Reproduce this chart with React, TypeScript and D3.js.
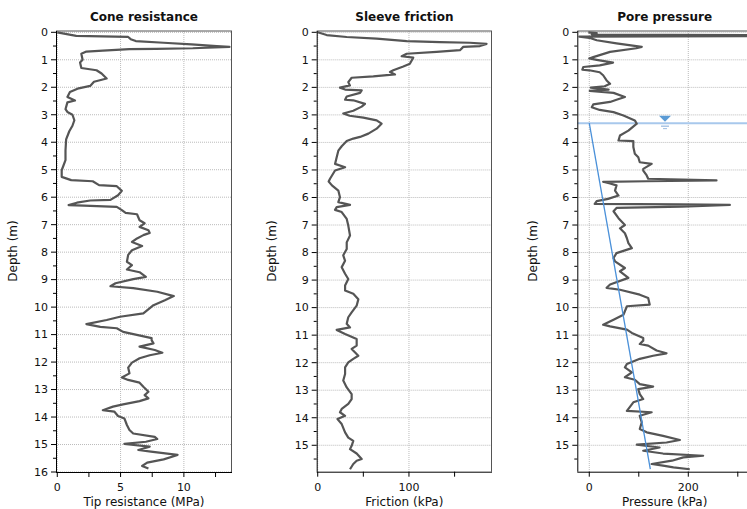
import React from "react";
import * as d3 from "d3";

// ---------- data ----------
const coneDepth = [0,0.13,0.17,0.25,0.32,0.38,0.44,0.5,0.53,0.58,0.6,0.61,0.67,0.7,0.78,1.0,1.1,1.3,1.38,1.5,1.68,1.8,1.95,2.05,2.17,2.35,2.48,2.55,2.8,2.9,3.0,3.2,3.4,3.6,3.9,4.3,4.65,5.02,5.26,5.38,5.42,5.56,5.6,5.77,5.93,6.1,6.12,6.2,6.29,6.31,6.35,6.47,6.57,6.62,6.84,6.95,7.08,7.2,7.3,7.38,7.5,7.63,7.78,7.93,8.1,8.35,8.47,8.63,8.73,8.9,8.98,9.13,9.24,9.31,9.44,9.6,9.75,9.93,10.23,10.35,10.47,10.62,10.72,10.77,10.9,11.13,11.2,11.32,11.44,11.56,11.66,11.75,11.86,12.02,12.2,12.41,12.56,12.65,12.75,12.9,13.08,13.2,13.32,13.42,13.54,13.62,13.75,13.8,13.96,14.05,14.29,14.47,14.6,14.72,14.8,14.9,14.98,15.08,15.2,15.26,15.38,15.54,15.66,15.78,15.87];
const coneValue = [0,1.5,5.6,5.8,6.2,8.4,10.6,12.6,13.6,10.7,7.8,5.7,3.6,2.3,1.9,2.0,1.8,1.9,3.1,3.5,3.9,2.9,2.6,1.6,1.0,0.8,1.4,0.8,0.65,0.8,1.2,1.35,1.2,0.95,0.7,0.65,0.65,0.35,0.35,1.1,2.8,3.3,4.7,5.1,4.8,4.2,2.6,1.55,0.9,2.1,4.7,5.1,5.4,6.3,6.5,6.9,6.5,7.2,7.3,6.8,6.3,5.9,6.7,5.9,5.6,5.5,5.9,5.5,6.5,7.0,6.0,4.6,4.2,6.0,7.9,9.2,8.5,7.6,6.8,4.95,3.9,2.3,3.4,4.7,5.2,7.45,7.45,7.6,6.5,7.7,8.3,7.3,6.5,5.9,5.6,5.7,5.1,5.6,6.5,6.8,7.2,6.9,7.2,6.5,5.2,4.4,3.6,4.5,4.8,5.3,5.5,5.7,6.0,7.7,7.9,7.0,5.3,7.3,6.4,7.4,9.5,8.4,7.1,6.7,7.2];

const frictionDepth = [0,0.1,0.17,0.23,0.32,0.36,0.38,0.42,0.5,0.53,0.65,0.71,0.78,0.87,0.92,1.14,1.24,1.38,1.44,1.53,1.6,1.65,1.81,1.93,2.01,2.08,2.11,2.2,2.33,2.45,2.47,2.6,2.7,2.85,2.95,3.03,3.1,3.2,3.32,3.5,3.68,3.8,3.86,3.95,4.14,4.3,4.54,4.78,4.9,5.02,5.32,5.42,5.56,5.75,5.99,6.17,6.27,6.35,6.45,6.53,6.78,7.02,7.38,7.63,7.87,8.1,8.3,8.53,8.77,8.96,9.2,9.38,9.5,9.7,9.93,10.17,10.35,10.59,10.72,10.81,10.96,11.14,11.2,11.38,11.5,11.75,11.86,11.99,12.17,12.41,12.65,12.9,13.14,13.32,13.5,13.68,13.8,13.93,14.05,14.23,14.53,14.72,14.84,15.02,15.14,15.3,15.5,15.56,15.68,15.87];
const frictionValue = [0,9.8,31.8,64.6,97.5,134,166.8,185,177.8,159.5,155.9,130.3,97.5,92,104.7,101,93.8,82.8,79.2,84.7,60.9,37.2,33.5,35.3,24.4,30,48.2,46.4,31.8,30,39,51.8,48.2,39,28,35,50,64.6,70,64.6,55.5,46.4,39,31.8,26.3,22.6,20.8,19,30,19,13.5,12,15.6,22.6,24.4,22.6,35.4,20.8,19,26.3,31.8,33.5,35.4,31.8,31.8,28,30,26.3,30,33.5,30,30,39,44.5,42.7,37.2,33.5,31.8,35.4,20.8,30,42.7,42.7,42.7,37.2,44.5,39,33.5,30,30,28,31.8,37.2,37.2,33.5,26.3,24.4,30,21.7,26.3,30,33.5,39,37.2,35.4,42.7,48.2,42.7,39,35.4];

const poreDepth = [0,0.03,0.08,0.11,0.14,0.16,0.2,0.29,0.4,0.53,0.58,0.71,0.9,0.95,1.0,1.1,1.2,1.26,1.36,1.38,1.45,1.56,1.75,1.87,1.96,2.01,2.08,2.13,2.2,2.35,2.45,2.53,2.62,2.72,2.82,2.9,3.02,3.2,3.32,3.57,3.75,3.93,3.95,4.17,4.41,4.54,4.72,4.78,4.96,5.02,5.2,5.32,5.38,5.41,5.43,5.49,5.56,5.75,5.93,6.05,6.13,6.23,6.25,6.27,6.33,6.38,6.5,6.75,7.0,7.12,7.3,7.48,7.66,7.84,8.02,8.2,8.32,8.56,8.68,8.92,9.16,9.28,9.35,9.53,9.65,9.89,9.95,10.26,10.44,10.62,10.68,10.8,10.92,11.1,11.2,11.32,11.38,11.56,11.66,11.75,11.86,12.05,12.17,12.35,12.53,12.62,12.78,12.87,12.96,13.14,13.32,13.44,13.75,13.8,13.93,14.17,14.41,14.53,14.66,14.81,14.9,14.98,15.08,15.2,15.3,15.38,15.44,15.56,15.68,15.74,15.8,15.87];
const poreValue = [-2,15,5,420,380,-20,0,15,55,106,95,42,8,0,15,48,21,-12,-14,0,21,28,35,42,31,3,39,1,49,72,55,42,8,5,21,49,69,92,96,79,62,59,89,89,92,99,102,126,109,109,116,119,257,116,28,42,55,52,59,38,15,11,183,284,187,55,49,59,72,62,72,76,79,86,55,49,52,72,62,79,42,35,62,102,119,122,76,69,49,28,42,76,86,109,109,102,119,136,156,129,102,76,72,86,72,92,102,129,99,102,109,89,76,126,102,106,102,116,149,183,156,96,142,109,149,230,190,167,126,149,170,203];

const waterTableDepth = 3.3;
const hydroDepth = [3.3, 15.87];
const hydroPressure = [0, 123.3];
const waterMarkerPressure = 153;

const titles = ["Cone resistance", "Sleeve friction", "Pore pressure"];
const xLabels = ["Tip resistance (MPa)", "Friction (kPa)", "Pressure (kPa)"];
const xTickLabels = [[0, 5, 10], [0, 100], [0, 200]];
const xTickMarks = [[0, 2.5, 5, 7.5, 10, 12.5], [0, 50, 100, 150], [0, 100, 200, 300]];
const depthTickLabels = [
  [0,1,2,3,4,5,6,7,8,9,10,11,12,13,14,15,16],
  [0,1,2,3,4,5,6,7,8,9,10,11,12,13,14,15],
  [0,1,2,3,4,5,6,7,8,9,10,11,12,13,14,15],
];

// ---------- layout ----------
const W = 747, H = 509;
const TOP = 31;
const panels = [
  { left: 56, right: 232, xDom: [-0.1, 13.8], yMax: 16, bottom: 472, labelX: 12.5 },
  { left: 316.7, right: 492, xDom: [-1.1, 191], yMax: 15.96, bottom: 471.7, labelX: 272 },
  { left: 577.3, right: 752, xDom: [-24.2, 328.7], yMax: 15.96, bottom: 471.7, labelX: 533 },
];
const series = [
  { d: coneDepth, v: coneValue },
  { d: frictionDepth, v: frictionValue },
  { d: poreDepth, v: poreValue },
];

const FONT = "'DejaVu Sans', Verdana, sans-serif";

function Panel({ i }: { i: number }) {
  const p = panels[i];
  const x = d3.scaleLinear().domain(p.xDom).range([p.left, p.right]);
  const y = d3.scaleLinear().domain([0, p.yMax]).range([32.3, p.bottom]);
  const s = series[i];
  const pts: [number, number][] = s.d.map((dd, k) => [s.v[k], dd]);
  const line = d3.line<[number, number]>().x((q) => x(q[0])).y((q) => y(q[1]));
  const minor = d3.range(0.5, p.yMax, 1);
  const clipId = `clip${i}`;
  const cx = (p.left + Math.min(p.right, 752)) / 2;
  return (
    <g>
      <defs>
        <clipPath id={clipId}>
          <rect x={p.left} y={TOP} width={p.right - p.left} height={p.bottom - TOP} />
        </clipPath>
      </defs>
      <text x={cx} y={21} textAnchor="middle" fontFamily={FONT} fontWeight="bold" fontSize={12} fill="#111">
        {titles[i]}
      </text>
      {/* grid */}
      {depthTickLabels[i].map((t) => (
        <line key={"gy" + t} x1={p.left} x2={p.right} y1={y(t)} y2={y(t)} stroke="#bbb" strokeWidth={1} strokeDasharray="1,1" />
      ))}
      {xTickLabels[i].map((t) => (
        <line key={"gx" + t} x1={x(t)} x2={x(t)} y1={TOP} y2={p.bottom} stroke="#bbb" strokeWidth={1} strokeDasharray="1,1" />
      ))}
      {/* frame */}
      <line x1={p.left} x2={p.right} y1={TOP} y2={TOP} stroke="#555" strokeWidth={1} />
      <line x1={p.right - 0.5} x2={p.right - 0.5} y1={TOP} y2={p.bottom} stroke="#555" strokeWidth={1} />
      {/* series */}
      <g clipPath={`url(#${clipId})`}>
        {i === 2 && (
          <line x1={p.left} x2={p.right} y1={y(waterTableDepth)} y2={y(waterTableDepth)} stroke="#a8c8ec" strokeWidth={2} />
        )}
        <path d={line(pts) || ""} fill="none" stroke="#555" strokeWidth={2.2} strokeLinejoin="round" />
        {i === 2 && (
          <path
            d={line(hydroDepth.map((dd, k) => [hydroPressure[k], dd] as [number, number])) || ""}
            fill="none"
            stroke="#4a90d9"
            strokeWidth={1.3}
          />
        )}
      </g>
      {i === 2 && (() => {
        const mx = x(waterMarkerPressure);
        const my = y(waterTableDepth);
        return (
          <g>
            <path d={`M${mx - 6},${my - 7.5} L${mx + 6},${my - 7.5} L${mx},${my - 1.5} Z`} fill="#5b9bd5" />
            <line x1={mx - 4} x2={mx + 4} y1={my + 3} y2={my + 3} stroke="#7ea8d8" strokeWidth={1} />
            <line x1={mx - 2} x2={mx + 2} y1={my + 5.5} y2={my + 5.5} stroke="#9bbbe0" strokeWidth={1} />
          </g>
        );
      })()}
      {/* y axis */}
      <line x1={p.left + 0.5} x2={p.left + 0.5} y1={TOP} y2={p.bottom} stroke="#000" strokeWidth={1} />
      {depthTickLabels[i].map((t) => (
        <g key={"yt" + t}>
          <line x1={p.left - 5} x2={p.left} y1={y(t)} y2={y(t)} stroke="#000" strokeWidth={1} />
          <text x={p.left - 8} y={y(t)} dy="0.35em" textAnchor="end" fontFamily={FONT} fontSize={11} fill="#111">
            {t}
          </text>
        </g>
      ))}
      {minor.map((t) => (
        <line key={"ym" + t} x1={p.left - 3} x2={p.left} y1={y(t)} y2={y(t)} stroke="#000" strokeWidth={1} />
      ))}
      <text
        transform={`translate(${p.labelX},${251}) rotate(-90)`}
        textAnchor="middle"
        dy="0.35em"
        fontFamily={FONT}
        fontSize={12}
        fill="#111"
      >
        Depth (m)
      </text>
      {/* x axis */}
      <line x1={p.left} x2={p.right} y1={p.bottom + 0.5} y2={p.bottom + 0.5} stroke="#000" strokeWidth={1} />
      {xTickMarks[i].map((t) => (
        <line key={"xt" + t} x1={x(t)} x2={x(t)} y1={p.bottom} y2={p.bottom + 5} stroke="#000" strokeWidth={1} />
      ))}
      {xTickLabels[i].map((t) => (
        <text key={"xl" + t} x={x(t)} y={487} dy="0.35em" textAnchor="middle" fontFamily={FONT} fontSize={11} fill="#111">
          {t}
        </text>
      ))}
      <text x={cx} y={502} dy="0.35em" textAnchor="middle" fontFamily={FONT} fontSize={12} fill="#111">
        {xLabels[i]}
      </text>
    </g>
  );
}

export default function App() {
  return (
    <svg
      width={W}
      height={H}
      style={{ position: "absolute", left: 0, top: 0, background: "#fff" }}
    >
      <rect width={W} height={H} fill="#fff" />
      {panels.map((_, i) => (
        <Panel key={i} i={i} />
      ))}
    </svg>
  );
}
